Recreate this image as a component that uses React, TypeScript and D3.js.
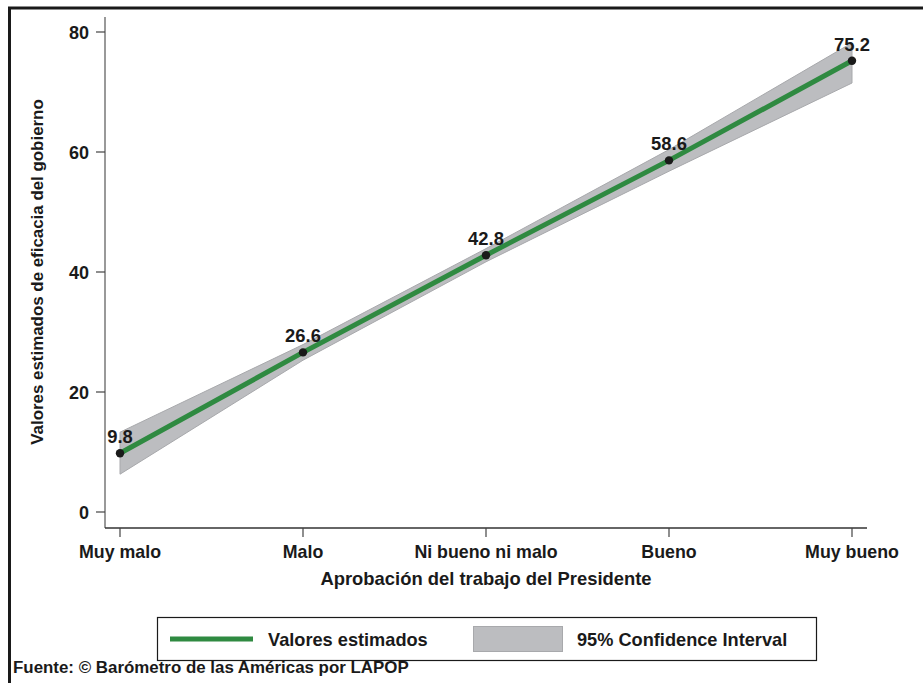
import React from "react";
import * as d3 from "d3";

const categories = ["Muy malo", "Malo", "Ni bueno ni malo", "Bueno", "Muy bueno"];
const estimates = [9.8, 26.6, 42.8, 58.6, 75.2];
const ciLower = [6.3, 25.3, 41.7, 56.8, 71.5];
const ciUpper = [13.3, 27.9, 43.9, 60.4, 78.2];
const yTicks = [0, 20, 40, 60, 80];

const W = 923;
const H = 683;
const FONT = "'Liberation Sans', Arial, Helvetica, sans-serif";
const GREEN = "#2f8a41";
const GREY = "#bcbdc0";
const INK = "#1a1a1a";

export default function App() {
  const x = d3.scalePoint<string>().domain(categories).range([120, 852]);
  const y = d3.scaleLinear().domain([0, 80]).range([512, 32]);

  const rows = categories.map((c, i) => ({ c, v: estimates[i], lo: ciLower[i], hi: ciUpper[i] }));
  const area = d3
    .area<typeof rows[number]>()
    .x((d) => x(d.c) as number)
    .y0((d) => y(d.lo))
    .y1((d) => y(d.hi));
  const line = d3
    .line<typeof rows[number]>()
    .x((d) => x(d.c) as number)
    .y((d) => y(d.v));

  return (
    <svg
      width={W}
      height={H}
      style={{ position: "absolute", left: 0, top: 0, background: "#fff" }}
      fontFamily={FONT}
      fontWeight="bold"
    >
      <rect x={0} y={0} width={W} height={H} fill="#fff" />
      {/* outer frame */}
      <path d={`M9.5,${H + 5} V8 H${W + 5}`} fill="none" stroke={INK} strokeWidth={3} />

      {/* y axis */}
      <line x1={105} x2={105} y1={17} y2={528} stroke="#777" strokeWidth={1.5} />
      {yTicks.map((t) => (
        <g key={t}>
          <line x1={96} x2={105} y1={y(t)} y2={y(t)} stroke="#444" strokeWidth={1.2} />
          <text x={89} y={y(t) + 6.5} textAnchor="end" fontSize={18} fill={INK}>
            {t}
          </text>
        </g>
      ))}
      <text
        transform={`translate(43,272) rotate(-90)`}
        textAnchor="middle"
        fontSize={16.9}
        fill={INK}
      >
        Valores estimados de eficacia del gobierno
      </text>

      {/* x axis */}
      <line x1={105} x2={867} y1={528} y2={528} stroke="#333" strokeWidth={1.3} />
      {categories.map((c) => (
        <g key={c}>
          <line x1={x(c)} x2={x(c)} y1={528} y2={537} stroke="#444" strokeWidth={1.2} />
          <text x={x(c)} y={558} textAnchor="middle" fontSize={17.8} fill={INK}>
            {c}
          </text>
        </g>
      ))}
      <text x={486} y={585} textAnchor="middle" fontSize={18.4} fill={INK}>
        Aprobación del trabajo del Presidente
      </text>

      {/* CI band */}
      <path d={area(rows) as string} fill={GREY} stroke="#a8a9ac" strokeWidth={1} />
      {/* estimate line */}
      <path d={line(rows) as string} fill="none" stroke={GREEN} strokeWidth={5} />
      {rows.map((d) => (
        <g key={d.c}>
          <circle cx={x(d.c)} cy={y(d.v)} r={4.2} fill={INK} />
          <text x={x(d.c) as number} y={y(d.v) - 10} textAnchor="middle" fontSize={18.4} fill={INK}>
            {d.v.toFixed(1)}
          </text>
        </g>
      ))}

      {/* legend */}
      <rect x={157.5} y={617.5} width={659} height={43} fill="#fff" stroke={INK} strokeWidth={1.2} />
      <line x1={170} x2={253} y1={639} y2={639} stroke={GREEN} strokeWidth={5} />
      <text x={268} y={645.5} fontSize={18.2} fill={INK}>
        Valores estimados
      </text>
      <rect x={473.5} y={626.5} width={89} height={25} fill={GREY} stroke="#a8a9ac" strokeWidth={1} />
      <text x={577} y={645.5} fontSize={18.2} fill={INK}>
        95% Confidence Interval
      </text>

      <text x={13} y={673} fontSize={16.9} fill={INK}>
        Fuente: © Barómetro de las Américas por LAPOP
      </text>
    </svg>
  );
}
